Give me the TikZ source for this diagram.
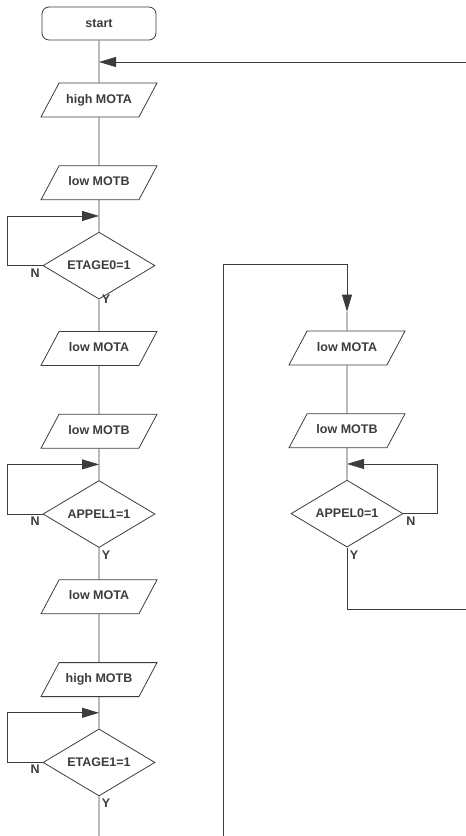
\documentclass[tikz,border=0pt]{standalone}
\usepackage{fontspec}
\setmainfont{Liberation Sans}
\usetikzlibrary{arrows.meta,calc,positioning,shapes.geometric}
\definecolor{flowgray}{HTML}{3C3C3C}
\tikzset{
  flowtext/.style={
    font=\bfseries\fontsize{12.5}{15}\selectfont,
    text=flowgray
  },
  terminal/.style={
    flowtext,
    draw=flowgray,
    line width=0.8pt,
    rounded corners=7pt,
    minimum width=114pt,
    minimum height=33pt,
    inner sep=2pt
  },
  iobox/.style={
    flowtext,
    trapezium,
    trapezium left angle=62,
    trapezium right angle=118,
    trapezium stretches body,
    draw=flowgray,
    line width=0.8pt,
    text height=9pt,
    text depth=3pt,
    inner xsep=2pt,
    inner ysep=11pt,
    minimum width=116pt
  },
  decision/.style={
    flowtext,
    diamond,
    aspect=1.67,
    draw=flowgray,
    line width=0.8pt,
    minimum width=112pt,
    minimum height=67pt,
    inner sep=0pt
  },
  branch/.style={
    flowtext,
    inner sep=2.5pt
  },
  flowline/.style={
    draw=flowgray,
    line width=0.8pt
  },
  flowarrow/.style={
    flowline,
    -{Triangle[length=17pt,width=10pt]}
  }
}

\begin{document}
\begin{tikzpicture}[x=1pt, y=-1pt, node distance=48pt]
    \useasboundingbox (0,0) rectangle (466,836);

    % main column
    \node[terminal] (start) at (99,23.5) {start};
    \node[iobox] (hmota) at (99,100) {high MOTA};
    \node[iobox, below=of hmota] (lmotb) {low MOTB};
    \node[decision, below=31.5pt of lmotb] (etage0) {ETAGE0=1};
    \node[iobox, below=31.5pt of etage0] (lmota) {low MOTA};
    \node[iobox, below=of lmota] (lmotbb) {low MOTB};
    \node[decision, below=31.5pt of lmotbb] (appel1) {APPEL1=1};
    \node[iobox, below=31.5pt of appel1] (lmotaa) {low MOTA};
    \node[iobox, below=of lmotaa] (hmotb) {high MOTB};
    \node[decision, below=31.5pt of hmotb] (etage1) {ETAGE1=1};

    % right column
    \node[iobox] (rmota) at (347,348) {low MOTA};
    \node[iobox, below=of rmota] (rmotb) {low MOTB};
    \node[decision, below=31.5pt of rmotb] (appel0) {APPEL0=1};

    % free ends at the page border
    \coordinate (backin) at (466,62);
    \coordinate (entry) at (start.south |- backin);
    \coordinate (mainend) at (99,836);
    \coordinate (backup) at (223,836);
    \coordinate (upturn) at (223,264);
    \coordinate (rtip) at ($(rmota.north)+(0,-19)$);
    \coordinate (backout) at (466,609);
    \coordinate (loop0) at ($(lmotb.south)!0.5!(etage0.north)$);
    \coordinate (loop1) at ($(lmotbb.south)!0.5!(appel1.north)$);
    \coordinate (loop2) at ($(hmotb.south)!0.5!(etage1.north)$);
    \coordinate (loopr) at ($(rmotb.south)!0.5!(appel0.north)$);

    \draw[flowline] (start) -- (hmota);
    \draw[flowarrow] (backin) -- (entry);
    \draw[flowline] (hmota) -- (lmotb);
    \draw[flowline] (lmotb) -- (etage0);
    \draw[flowarrow] (etage0.west) -- node[branch, pos=0, anchor=north east] {N} ++(-35,0) |- (loop0);
    \draw[flowline] (etage0) -- node[branch, pos=0, anchor=west] {Y} (lmota);
    \draw[flowline] (lmota) -- (lmotbb);
    \draw[flowline] (lmotbb) -- (appel1);
    \draw[flowarrow] (appel1.west) -- node[branch, pos=0, anchor=north east] {N} ++(-35,0) |- (loop1);
    \draw[flowline] (appel1) -- node[branch, pos=0, anchor=north west] {Y} (lmotaa);
    \draw[flowline] (lmotaa) -- (hmotb);
    \draw[flowline] (hmotb) -- (etage1);
    \draw[flowarrow] (etage1.west) -- node[branch, pos=0, anchor=north east] {N} ++(-35,0) |- (loop2);
    \draw[flowline] (etage1) -- node[branch, pos=0, anchor=north west] {Y} (mainend);

    \draw[flowarrow] (backup) -- (upturn) -| (rtip);
    \draw[flowline] (rtip) -- (rmota);
    \draw[flowline] (rmota) -- (rmotb);
    \draw[flowline] (rmotb) -- (appel0);
    \draw[flowarrow] (appel0.east) -- node[branch, pos=0, anchor=north west] {N} ++(34,0) |- (loopr);
    \draw[flowline] (appel0.south) -- node[branch, pos=0, anchor=north west] {Y} (appel0.south |- backout) -- (backout);
\end{tikzpicture}
\end{document}
